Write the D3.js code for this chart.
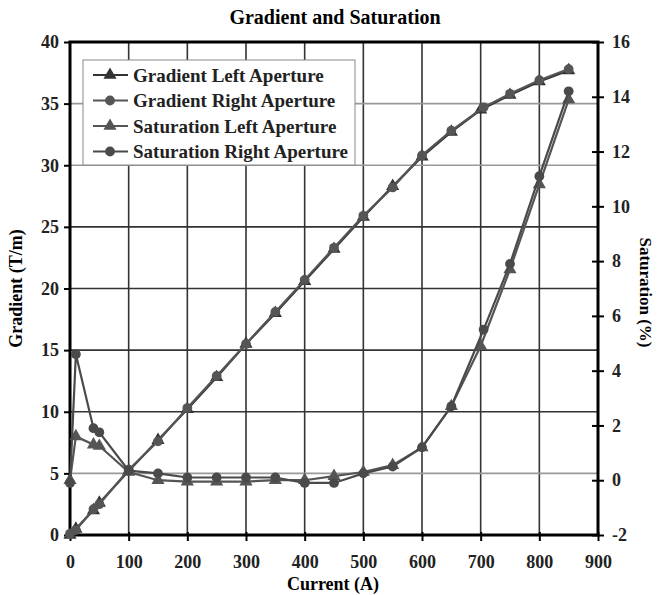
<!DOCTYPE html>
<html>
<head>
<meta charset="utf-8">
<script src="https://cdn.jsdelivr.net/npm/d3@7"></script>
<style>
  body { margin: 0; background: #fff; }
  svg { font-family: "Liberation Serif", "DejaVu Serif", serif; font-weight: bold; }
</style>
</head>
<body>
<div id="chart"></div>
<script>
// Data
const xTicks = [0, 100, 200, 300, 400, 500, 600, 700, 800, 900];
const leftTicks = [0, 5, 10, 15, 20, 25, 30, 35, 40];
const rightTicks = [-2, 0, 2, 4, 6, 8, 10, 12, 14, 16];

const gradLeftCurrent = [0, 10, 40, 50, 100, 150, 200, 250, 300, 350, 400, 450, 500, 550, 600, 650, 700, 750, 800, 850];
const gradLeftValues  = [0, 0.5, 2.0, 2.6, 5.2, 7.7, 10.2, 12.8, 15.5, 18.0, 20.6, 23.2, 25.8, 28.3, 30.7, 32.7, 34.5, 35.7, 36.8, 37.7];

const gradRightCurrent = [0, 10, 40, 50, 100, 150, 200, 250, 300, 350, 400, 450, 500, 550, 600, 650, 705, 750, 800, 850];
const gradRightValues  = [0.1, 0.4, 2.1, 2.5, 5.3, 7.6, 10.3, 12.9, 15.5, 18.1, 20.7, 23.3, 25.9, 28.2, 30.8, 32.8, 34.7, 35.8, 36.9, 37.8];

const satLeftCurrent = [0, 10, 40, 50, 100, 150, 200, 250, 300, 350, 400, 450, 500, 550, 600, 650, 700, 750, 800, 850];
const satLeftValues  = [0, 1.6, 1.3, 1.25, 0.3, 0.0, -0.05, -0.05, -0.05, 0.0, 0.0, 0.15, 0.3, 0.55, 1.2, 2.7, 4.9, 7.7, 10.8, 13.9];

const satRightCurrent = [0, 10, 40, 50, 100, 150, 200, 250, 300, 350, 400, 450, 500, 550, 600, 650, 705, 750, 800, 850];
const satRightValues  = [-0.1, 4.6, 1.9, 1.75, 0.35, 0.25, 0.1, 0.1, 0.1, 0.1, -0.1, -0.1, 0.25, 0.5, 1.2, 2.7, 5.5, 7.9, 11.1, 14.2];

const seriesNames = ["Gradient Left Aperture", "Gradient Right Aperture", "Saturation Left Aperture", "Saturation Right Aperture"];

const width = 658, height = 595;
const plotLeft = 70, plotRight = 598, plotTop = 42, plotBottom = 535;

const svg = d3.select("#chart").append("svg")
    .attr("width", width)
    .attr("height", height);

const x = d3.scaleLinear().domain([0, 900]).range([plotLeft, plotRight]);
const yL = d3.scaleLinear().domain([0, 40]).range([plotBottom, plotTop]);
const yR = d3.scaleLinear().domain([-2, 16]).range([plotBottom, plotTop]);

// Grid lines
const grid = svg.append("g");
grid.selectAll("line.v")
    .data(xTicks.slice(1, -1))
    .enter().append("line")
    .attr("x1", d => x(d)).attr("x2", d => x(d))
    .attr("y1", plotTop).attr("y2", plotBottom)
    .style("stroke", "#333").style("stroke-width", 1.6);

grid.selectAll("line.h")
    .data(leftTicks.slice(1, -1))
    .enter().append("line")
    .attr("x1", plotLeft).attr("x2", plotRight)
    .attr("y1", d => yL(d)).attr("y2", d => yL(d))
    .style("stroke", d => (d === 35 || d === 30 || d === 5) ? "#999" : "#333")
    .style("stroke-width", 1.6);

// Axes
const xAxis = svg.append("g")
    .attr("transform", `translate(0,${plotBottom})`)
    .call(d3.axisBottom(x).tickValues(xTicks).tickSize(6).tickPadding(14));

const leftAxis = svg.append("g")
    .attr("transform", `translate(${plotLeft},0)`)
    .call(d3.axisLeft(yL).tickValues(leftTicks).tickSize(6).tickPadding(5));

const rightAxis = svg.append("g")
    .attr("transform", `translate(${plotRight},0)`)
    .call(d3.axisRight(yR).tickValues(rightTicks).tickSize(6).tickPadding(8)
        .tickFormat(d => String(d)));

[xAxis, leftAxis, rightAxis].forEach(a => {
    a.select(".domain").remove();
    a.selectAll(".tick line").style("stroke", "#000").style("stroke-width", 2);
    a.selectAll("text")
        .style("font-family", "Liberation Serif, serif")
        .style("font-weight", "bold")
        .style("font-size", "18px")
        .style("fill", "#222");
});
// right ticks cross the axis
rightAxis.selectAll(".tick line").attr("x1", -6);
xAxis.selectAll(".tick line").attr("y1", -3);

// Frame
svg.append("rect")
    .attr("x", plotLeft).attr("y", plotTop)
    .attr("width", plotRight - plotLeft).attr("height", plotBottom - plotTop)
    .style("fill", "none").style("stroke", "#000").style("stroke-width", 3);

// Series
const series = [
    { cur: gradLeftCurrent, val: gradLeftValues, y: yL, symbol: d3.symbolTriangle, color: "#333" },
    { cur: gradRightCurrent, val: gradRightValues, y: yL, symbol: d3.symbolCircle, color: "#555" },
    { cur: satLeftCurrent, val: satLeftValues, y: yR, symbol: d3.symbolTriangle, color: "#555" },
    { cur: satRightCurrent, val: satRightValues, y: yR, symbol: d3.symbolCircle, color: "#4a4a4a" }
];

const plot = svg.append("g");
series.forEach(s => {
    const pts = s.cur.map((c, i) => [c, s.val[i]]);
    const line = d3.line().x(d => x(d[0])).y(d => s.y(d[1]));
    plot.append("path")
        .datum(pts)
        .attr("d", line)
        .style("fill", "none")
        .style("stroke", s.color)
        .style("stroke-width", 2.2);
    plot.selectAll(null)
        .data(pts)
        .enter().append("path")
        .attr("transform", d => `translate(${x(d[0])},${s.y(d[1])})`)
        .attr("d", d3.symbol().type(s.symbol).size(75))
        .style("fill", s.color);
});

// Legend
const legend = svg.append("g").attr("transform", "translate(83,60)");
legend.append("rect")
    .attr("width", 272).attr("height", 105)
    .style("fill", "#fff").style("stroke", "#888").style("stroke-width", 1);

const rows = legend.selectAll("g.row")
    .data(series)
    .enter().append("g")
    .attr("transform", (d, i) => `translate(0,${15 + i * 25.5})`);

rows.append("line")
    .attr("x1", 10).attr("x2", 45)
    .style("stroke", d => d.color).style("stroke-width", 2.2);
rows.append("path")
    .attr("transform", "translate(27,0)")
    .attr("d", d => d3.symbol().type(d.symbol).size(75)())
    .style("fill", d => d.color);
rows.append("text")
    .attr("x", 50).attr("dy", "0.35em")
    .style("font-size", "19px")
    .style("fill", "#222")
    .text((d, i) => seriesNames[i]);

// Titles
svg.append("text")
    .attr("x", 335).attr("y", 24)
    .attr("text-anchor", "middle")
    .style("font-size", "20px")
    .text("Gradient and Saturation");

svg.append("text")
    .attr("x", 333).attr("y", 590)
    .attr("text-anchor", "middle")
    .style("font-size", "18px")
    .text("Current (A)");

svg.append("text")
    .attr("transform", `translate(22,${(plotTop + plotBottom) / 2}) rotate(-90)`)
    .attr("text-anchor", "middle")
    .style("font-size", "18px")
    .text("Gradient (T/m)");

svg.append("text")
    .attr("transform", `translate(640,${(plotTop + plotBottom) / 2 + 4}) rotate(90)`)
    .attr("text-anchor", "middle")
    .style("font-size", "17px")
    .text("Saturation (%)");
</script>
</body>
</html>
